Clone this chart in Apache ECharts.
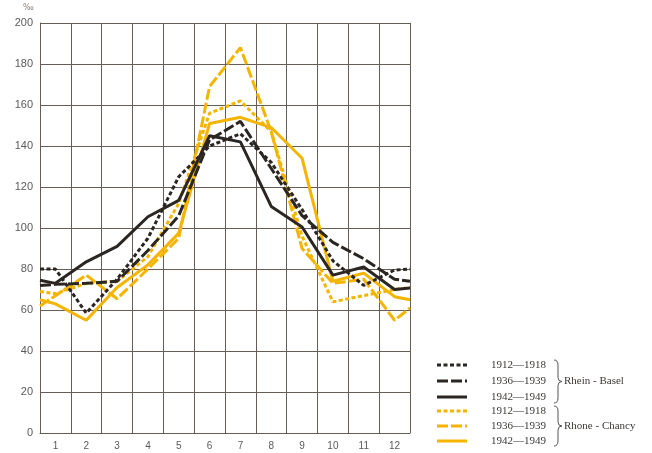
<!DOCTYPE html>
<html>
<head>
<meta charset="utf-8">
<script src="https://cdn.jsdelivr.net/npm/echarts@6/dist/echarts.min.js"></script>
<style>
html,body{margin:0;padding:0;background:#fff}
#chart{width:652px;height:453px}
</style>
</head>
<body>
<div id="chart"></div>
<script>
// month labels under the columns
var months = ['1','2','3','4','5','6','7','8','9','10','11','12'];
var periods = ['1912—1918','1936—1939','1942—1949'];
var rivers = ['Rhein - Basel','Rhone - Chancy'];

// per series: value at left frame, Jan..Dec, value at right frame (‰)
var rheinDotted = [80, 80, 58.5, 75, 95, 125, 140, 146, 132, 109, 84, 72, 79.5, 80];
var rheinDashed = [72, 72.5, 73, 74, 89, 106, 143, 152, 129, 106, 93, 85, 75, 74];
var rheinSolid  = [74.5, 73, 83.5, 91, 105.5, 113.5, 145, 142, 110.5, 100.5, 77, 81, 70, 70.7];
var rhoneDotted = [69, 68, 73, 74, 86, 112, 156, 162, 147, 96, 64, 67, 70, 71];
var rhoneDashed = [62, 67, 77, 65.5, 80, 95, 169, 188, 147, 90, 73, 75, 55, 61];
var rhoneSolid  = [65, 63, 55, 71, 82, 97.5, 151, 154, 149, 134, 74, 78, 66.5, 65];

var black = '#2b2622';
var yellow = '#f5b400';
var dotDash = [4, 2.5];
var longDash = [11, 3];
var gridColor = '#665d57';

// x position: frame edges at 0 and 12, months in the middle of their column
function xAt(i, n){
    if(i === 0) return 0;
    if(i === n - 1) return months.length;
    return i - 0.5;
}

function mk(name, vals, color, dash, z){
    return {
        name: name,
        type: 'line',
        xAxisIndex: 0,
        symbol: 'none',
        z: z,
        lineStyle: {color: color, width: 3, type: dash},
        data: vals.map(function(v, i){ return [xAt(i, vals.length), v]; })
    };
}

var chart = echarts.init(document.getElementById('chart'));

// legend drawn by hand (braces)
var legendRows = [
    {color: black, dash: dotDash, text: periods[0]},
    {color: black, dash: longDash, text: periods[1]},
    {color: black, dash: 'solid', text: periods[2]},
    {color: yellow, dash: dotDash, text: periods[0]},
    {color: yellow, dash: longDash, text: periods[1]},
    {color: yellow, dash: 'solid', text: periods[2]}
];
var rowY = [365, 381, 397, 411, 426, 441];
var legendFont = '11px "Liberation Serif"';
var graphics = [];
legendRows.forEach(function(r, i){
    graphics.push({
        type: 'line',
        shape: {x1: 437, y1: rowY[i], x2: 467, y2: rowY[i]},
        style: {stroke: r.color, lineWidth: 3, lineDash: r.dash === 'solid' ? null : r.dash}
    });
    graphics.push({
        type: 'text', x: 491, y: rowY[i],
        style: {text: r.text, fill: '#3c3835', font: legendFont, verticalAlign: 'middle'}
    });
});
// curly brace from y1 to y2, tip pointing right
function brace(x, y1, y2){
    var m = (y1 + y2) / 2;
    var st = {stroke: '#555', lineWidth: 1, fill: null};
    return [
        {type: 'bezierCurve', shape: {x1: x, y1: y1, x2: x + 4, y2: y1 + 5, cpx1: x + 4, cpy1: y1}, style: st},
        {type: 'line', shape: {x1: x + 4, y1: y1 + 5, x2: x + 4, y2: m - 4}, style: st},
        {type: 'bezierCurve', shape: {x1: x + 4, y1: m - 4, x2: x + 8, y2: m, cpx1: x + 4, cpy1: m}, style: st},
        {type: 'bezierCurve', shape: {x1: x + 8, y1: m, x2: x + 4, y2: m + 4, cpx1: x + 4, cpy1: m}, style: st},
        {type: 'line', shape: {x1: x + 4, y1: m + 4, x2: x + 4, y2: y2 - 5}, style: st},
        {type: 'bezierCurve', shape: {x1: x + 4, y1: y2 - 5, x2: x, y2: y2, cpx1: x + 4, cpy1: y2}, style: st}
    ];
}
graphics = graphics.concat(brace(554, 360, 403), brace(554, 406, 446));
graphics.push({type: 'text', x: 564, y: 381, style: {text: rivers[0], fill: '#3c3835', font: legendFont, verticalAlign: 'middle'}});
graphics.push({type: 'text', x: 564, y: 426, style: {text: rivers[1], fill: '#3c3835', font: legendFont, verticalAlign: 'middle'}});
graphics.push({type: 'text', x: 23, y: 4, style: {text: '‰', fill: '#8a8480', font: '8px "DejaVu Sans"'}});

var option = {
    backgroundColor: '#fff',
    animation: false,
    grid: {left: 40, right: 242, top: 23, bottom: 20, outerBoundsMode: 'none'},
    xAxis: [{
        type: 'value', min: 0, max: 12, interval: 1,
        axisLine: {show: true, lineStyle: {color: gridColor, width: 1}},
        axisTick: {show: false},
        axisLabel: {show: false},
        splitLine: {show: true, lineStyle: {color: gridColor, width: 1}}
    }, {
        type: 'category', data: months, boundaryGap: true, position: 'bottom',
        axisLine: {show: false}, axisTick: {show: false}, splitLine: {show: false},
        axisLabel: {color: '#5a5a5a', fontSize: 10, fontFamily: 'Liberation Sans', margin: 8}
    }],
    yAxis: {
        type: 'value', min: 0, max: 200, interval: 20,
        axisLine: {show: true, lineStyle: {color: gridColor, width: 1}},
        axisTick: {show: false},
        axisLabel: {color: '#5a5a5a', fontSize: 11, fontFamily: 'Liberation Sans', margin: 7},
        splitLine: {show: true, lineStyle: {color: gridColor, width: 1}}
    },
    series: [
        mk('Rhone 1912—1918', rhoneDotted, yellow, dotDash, 2),
        mk('Rhone 1936—1939', rhoneDashed, yellow, longDash, 2),
        mk('Rhone 1942—1949', rhoneSolid, yellow, 'solid', 2),
        mk('Rhein 1912—1918', rheinDotted, black, dotDash, 3),
        mk('Rhein 1936—1939', rheinDashed, black, longDash, 3),
        mk('Rhein 1942—1949', rheinSolid, black, 'solid', 3)
    ],
    graphic: graphics
};
chart.setOption(option);
</script>
</body>
</html>
